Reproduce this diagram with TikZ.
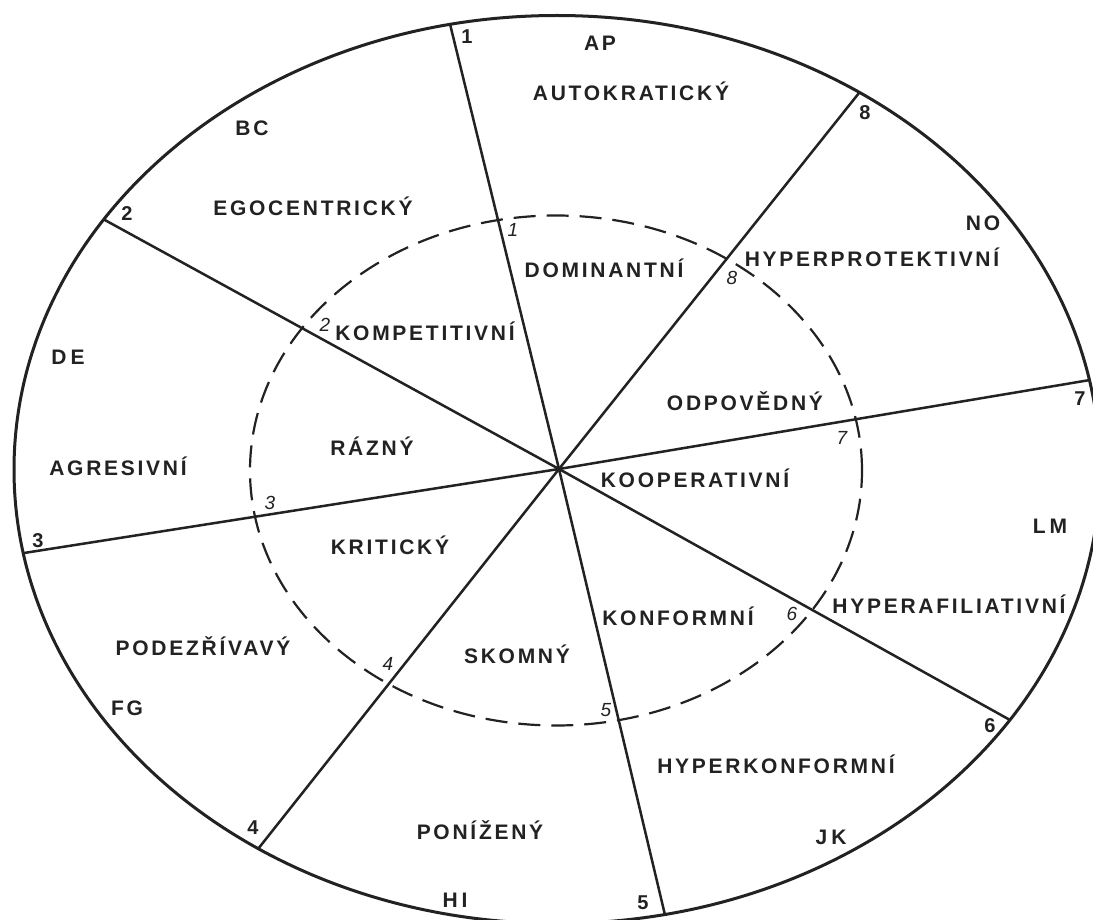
\documentclass[tikz,border=0pt]{standalone}
\usepackage{fontspec}
\newfontfamily\labfont{Liberation Sans}[LetterSpace=13]
\newfontfamily\numfont{Liberation Sans}
\definecolor{ink}{HTML}{222222}
\begin{document}
\begin{tikzpicture}[x=1pt,y=-1pt]
\tikzset{
  lab/.style={font=\labfont\bfseries\fontsize{21}{24}\selectfont, text=ink, inner sep=0pt, text height=15pt, text depth=0pt},
  onum/.style={font=\numfont\bfseries\fontsize{20}{22}\selectfont, text=ink, inner sep=0pt, text height=14pt, text depth=0pt},
  inum/.style={font=\numfont\itshape\fontsize{19}{22}\selectfont, text=ink, inner sep=0pt, text height=13pt, text depth=0pt},
  spoke/.style={line width=2.5pt, draw=ink},
  rim/.style={line width=3pt, draw=ink},
  dashring/.style={line width=2.2pt, draw=ink, dash pattern=on 22pt off 11pt}
}
\useasboundingbox[fill=white] (0,0) rectangle (1093,920);
% outer ellipse and inner dashed ellipse
\draw[rim] (557,469.5) ellipse [x radius=543pt, y radius=454pt];
\draw[dashring] (556,470.5) ellipse [x radius=306pt, y radius=255pt];
% spoke end points
\coordinate (c) at (559,469);
\coordinate (e1) at (450,24);
\coordinate (e2) at (103,219);
\coordinate (e3) at (24,553);
\coordinate (e4) at (258,849);
\coordinate (e5) at (665,915);
\coordinate (e6) at (1010,720);
\coordinate (e7) at (1090,380);
\coordinate (e8) at (859,93);
\draw[spoke] (e1) -- (c) -- (e5);
\draw[spoke] (e2) -- (c) -- (e6);
\draw[spoke] (e3) -- (c) -- (e7);
\draw[spoke] (e8) -- (c) -- (e4);
% outer numbers
\node[onum] (o1) at (467,37) {1};
\node[onum] (o2) at (127,214) {2};
\node[onum] (o3) at (38,540) {3};
\node[onum] (o4) at (253,827) {4};
\node[onum] (o5) at (643,902) {5};
\node[onum] (o6) at (990,725) {6};
\node[onum] (o7) at (1080,398) {7};
\node[onum] (o8) at (865,113) {8};
% inner numbers
\node[inum] (i1) at (513,230) {1};
\node[inum] (i2) at (325,325) {2};
\node[inum] (i3) at (270,503) {3};
\node[inum] (i4) at (388,664) {4};
\node[inum] (i5) at (606,710) {5};
\node[inum] (i6) at (792,614) {6};
\node[inum] (i7) at (842,438) {7};
\node[inum] (i8) at (732,278) {8};
% labels
\node[lab] (ap) at (600,43) {AP};
\node[lab] (autok) at (631,93) {AUTOKRATICKÝ};
\node[lab] (bc) at (252,128) {BC};
\node[lab] (ego) at (313,208) {EGOCENTRICKÝ};
\node[lab] (no) at (983,223) {NO};
\node[lab] (hprot) at (872,259) {HYPERPROTEKTIVNÍ};
\node[lab] (dom) at (604,270) {DOMINANTNÍ};
\node[lab] (komp) at (425,333) {KOMPETITIVNÍ};
\node[lab] (de) at (68,357) {D\kern4pt E};
\node[lab] (odp) at (745,403) {ODPOVĚDNÝ};
\node[lab] (razny) at (372,448) {RÁZNÝ};
\node[lab] (agr) at (118,468) {AGRESIVNÍ};
\node[lab] (koop) at (695,480) {KOOPERATIVNÍ};
\node[lab] (lm) at (1050,526) {L\kern4pt M};
\node[lab] (krit) at (390,547) {KRITICKÝ};
\node[lab] (hafil) at (949,606) {HYPERAFILIATIVNÍ};
\node[lab] (konf) at (678,618) {KONFORMNÍ};
\node[lab] (podez) at (203,648) {PODEZŘÍVAVÝ};
\node[lab] (skom) at (517,656) {SKOMNÝ};
\node[lab] (fg) at (127,708) {FG};
\node[lab] (hkonf) at (776,766) {HYPERKONFORMNÍ};
\node[lab] (poniz) at (480,832) {PONÍŽENÝ};
\node[lab] (jk) at (831,837) {J\kern4pt K};
\node[lab] (hi) at (455,900) {H\kern4pt I};
\end{tikzpicture}
\end{document}
